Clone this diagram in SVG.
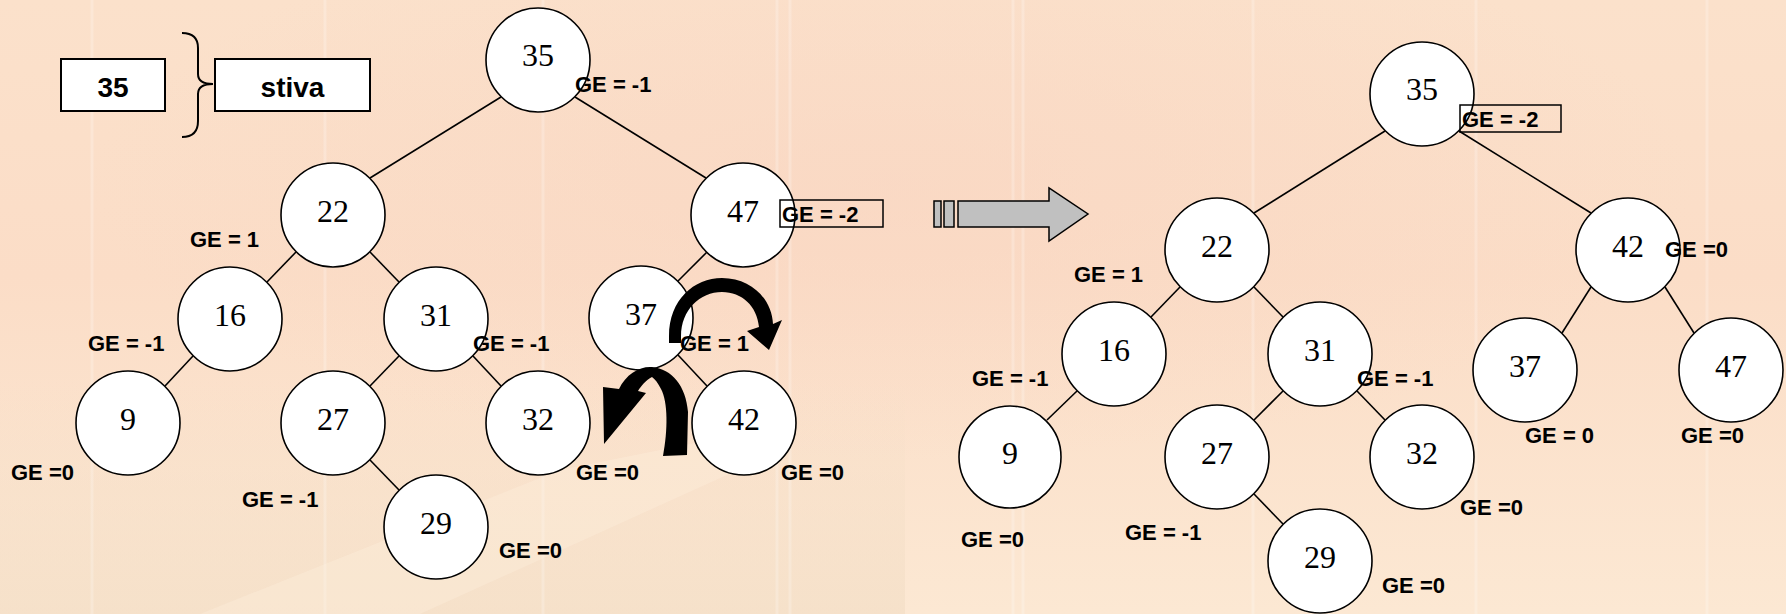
<svg xmlns="http://www.w3.org/2000/svg" width="1786" height="614" viewBox="0 0 1786 614">
<defs>
<linearGradient id="bg" x1="0" y1="0" x2="0" y2="1">
<stop offset="0" stop-color="#FBE1CB"/>
<stop offset="0.45" stop-color="#FBDDC7"/>
<stop offset="1" stop-color="#FCE8D3"/>
</linearGradient>
<radialGradient id="glow" cx="0.5" cy="0.3" r="0.45">
<stop offset="0" stop-color="#F8D2BF" stop-opacity="0.45"/>
<stop offset="1" stop-color="#F8D2BF" stop-opacity="0"/>
</radialGradient>
<linearGradient id="tan" x1="0" y1="0" x2="0" y2="1">
<stop offset="0" stop-color="#F3DEC6" stop-opacity="0"/>
<stop offset="1" stop-color="#F3DEC6" stop-opacity="0.7"/>
</linearGradient>
<style>
.n circle{fill:#fff;stroke:#000;stroke-width:1.6}
.n text{font-family:"Liberation Serif","Times New Roman",serif;font-size:32px;text-anchor:middle;fill:#000}
.ge{font-family:"Liberation Sans",Arial,sans-serif;font-size:22px;font-weight:bold;fill:#000}
.bx{fill:none;stroke:#000;stroke-width:1.5}
.sb{fill:#fff;stroke:#000;stroke-width:2}
.st{font-family:"Liberation Sans",Arial,sans-serif;font-size:28px;font-weight:bold;text-anchor:middle;fill:#000}
#connectors line{stroke:#000;stroke-width:1.6}
.vl{stroke:#fff;stroke-opacity:0.22;stroke-width:3}
</style>
</defs>
<rect width="1786" height="614" fill="url(#bg)"/>
<rect width="1786" height="614" fill="url(#glow)"/>
<rect x="0" y="380" width="905" height="234" fill="url(#tan)"/>
<g id="bg-lines">
<line class="vl" x1="92" y1="0" x2="92" y2="614"/>
<line class="vl" x1="325" y1="0" x2="325" y2="614"/>
<line class="vl" x1="543" y1="0" x2="543" y2="614"/>
<line class="vl" x1="777" y1="0" x2="777" y2="614"/>
<line class="vl" x1="790" y1="0" x2="790" y2="614"/>
<line class="vl" x1="1013" y1="0" x2="1013" y2="614"/>
<line class="vl" x1="1023" y1="0" x2="1023" y2="614"/>
<line class="vl" x1="1253" y1="0" x2="1253" y2="614"/>
<line class="vl" x1="1476" y1="0" x2="1476" y2="614"/>
<line class="vl" x1="1707" y1="0" x2="1707" y2="614"/>
</g>
<polygon points="200,614 560,470 760,430 760,460 420,614" fill="#FFF3E2" opacity="0.3"/>

<g id="stack">
<rect class="sb" x="61" y="59" width="104" height="52"/>
<text class="st" x="113" y="97">35</text>
<path d="M182,33 Q198,33 198,48 L198,74 Q198,84 213,84 Q198,84 198,94 L198,121 Q198,137 182,137" fill="none" stroke="#000" stroke-width="2"/>
<rect class="sb" x="215" y="59" width="155" height="52"/>
<text class="st" x="292.5" y="97">stiva</text>
</g>

<g id="connectors">
<line x1="501" y1="97" x2="370" y2="178"/>
<line x1="575" y1="97" x2="706" y2="178"/>
<line x1="296" y1="252" x2="267" y2="282"/>
<line x1="370" y1="252" x2="399" y2="282"/>
<line x1="193" y1="356" x2="165" y2="386"/>
<line x1="399" y1="356" x2="370" y2="386"/>
<line x1="473" y1="356" x2="501" y2="386"/>
<line x1="370" y1="460" x2="399" y2="490"/>
<line x1="707" y1="252" x2="678" y2="281"/>
<line x1="678" y1="355" x2="707" y2="386"/>
<line x1="1385" y1="131" x2="1254" y2="213"/>
<line x1="1459" y1="131" x2="1591" y2="213"/>
<line x1="1180" y1="287" x2="1151" y2="317"/>
<line x1="1254" y1="287" x2="1283" y2="317"/>
<line x1="1077" y1="391" x2="1047" y2="420"/>
<line x1="1283" y1="391" x2="1254" y2="420"/>
<line x1="1357" y1="391" x2="1385" y2="420"/>
<line x1="1254" y1="494" x2="1283" y2="524"/>
<line x1="1591" y1="287" x2="1562" y2="333"/>
<line x1="1665" y1="287" x2="1694" y2="333"/>
</g>

<g id="L35" class="n"><circle cx="538" cy="60" r="52"/><text x="538" y="66">35</text></g>
<g id="L22" class="n"><circle cx="333" cy="215" r="52"/><text x="333" y="222">22</text></g>
<g id="L47" class="n"><circle cx="743" cy="215" r="52"/><text x="743" y="222">47</text></g>
<g id="L16" class="n"><circle cx="230" cy="319" r="52"/><text x="230" y="326">16</text></g>
<g id="L31" class="n"><circle cx="436" cy="319" r="52"/><text x="436" y="326">31</text></g>
<g id="L37" class="n"><circle cx="641" cy="318" r="52"/><text x="641" y="325">37</text></g>
<g id="L9" class="n"><circle cx="128" cy="423" r="52"/><text x="128" y="430">9</text></g>
<g id="L27" class="n"><circle cx="333" cy="423" r="52"/><text x="333" y="430">27</text></g>
<g id="L32" class="n"><circle cx="538" cy="423" r="52"/><text x="538" y="430">32</text></g>
<g id="L42" class="n"><circle cx="744" cy="423" r="52"/><text x="744" y="430">42</text></g>
<g id="L29" class="n"><circle cx="436" cy="527" r="52"/><text x="436" y="534">29</text></g>

<g id="R35" class="n"><circle cx="1422" cy="94" r="52"/><text x="1422" y="100">35</text></g>
<g id="R22" class="n"><circle cx="1217" cy="250" r="52"/><text x="1217" y="257">22</text></g>
<g id="R42" class="n"><circle cx="1628" cy="250" r="52"/><text x="1628" y="257">42</text></g>
<g id="R16" class="n"><circle cx="1114" cy="354" r="52"/><text x="1114" y="361">16</text></g>
<g id="R31" class="n"><circle cx="1320" cy="354" r="52"/><text x="1320" y="361">31</text></g>
<g id="R37" class="n"><circle cx="1525" cy="370" r="52"/><text x="1525" y="377">37</text></g>
<g id="R47" class="n"><circle cx="1731" cy="370" r="52"/><text x="1731" y="377">47</text></g>
<g id="R9" class="n"><circle cx="1010" cy="457" r="51"/><text x="1010" y="464">9</text></g>
<g id="R27" class="n"><circle cx="1217" cy="457" r="52"/><text x="1217" y="464">27</text></g>
<g id="R32" class="n"><circle cx="1422" cy="457" r="52"/><text x="1422" y="464">32</text></g>
<g id="R29" class="n"><circle cx="1320" cy="561" r="52"/><text x="1320" y="568">29</text></g>

<g id="labels-left">
<text class="ge" x="575" y="92">GE = -1</text>
<text class="ge" x="190" y="247">GE = 1</text>
<rect class="bx" x="780" y="200" width="103" height="27"/>
<text class="ge" x="782" y="222">GE = -2</text>
<text class="ge" x="88" y="351">GE = -1</text>
<text class="ge" x="473" y="351">GE = -1</text>
<text class="ge" x="680" y="351">GE = 1</text>
<text class="ge" x="11" y="480">GE =0</text>
<text class="ge" x="576" y="480">GE =0</text>
<text class="ge" x="781" y="480">GE =0</text>
<text class="ge" x="242" y="507">GE = -1</text>
<text class="ge" x="499" y="558">GE =0</text>
</g>

<g id="labels-right">
<rect class="bx" x="1460" y="105" width="101" height="27"/>
<text class="ge" x="1462" y="127">GE = -2</text>
<text class="ge" x="1665" y="257">GE =0</text>
<text class="ge" x="1074" y="282">GE = 1</text>
<text class="ge" x="972" y="386">GE = -1</text>
<text class="ge" x="1357" y="386">GE = -1</text>
<text class="ge" x="1525" y="443">GE = 0</text>
<text class="ge" x="1681" y="443">GE =0</text>
<text class="ge" x="1460" y="515">GE =0</text>
<text class="ge" x="1125" y="540">GE = -1</text>
<text class="ge" x="961" y="547">GE =0</text>
<text class="ge" x="1382" y="593">GE =0</text>
</g>

<g id="rotation-arrows">
<path d="M669,343 L669,336 C669,300 694,278 722,278 C752,278 772,300 773,324 L782,320 L769,350 L747,331 L759,327 C757,306 742,292 722,292 C700,292 681,310 681,336 L681,343 Z" fill="#000"/>
<path d="M663,456 C668,430 668,402 661,389 C658,383 655,379 652,377 C646,380 641,386 638,391 L646,393 L604,444 L603,387 L619,389 C626,374 640,366 652,367 C672,369 686,386 688,412 L687,455 Z" fill="#000"/>
</g>

<g id="transition-arrow" fill="#C0C0C0" stroke="#000" stroke-width="1.5">
<rect x="934" y="201" width="7" height="26"/>
<rect x="944" y="201" width="10" height="26"/>
<polygon points="958,201 1049,201 1049,188 1088,214 1049,241 1049,227 958,227"/>
</g>
</svg>
